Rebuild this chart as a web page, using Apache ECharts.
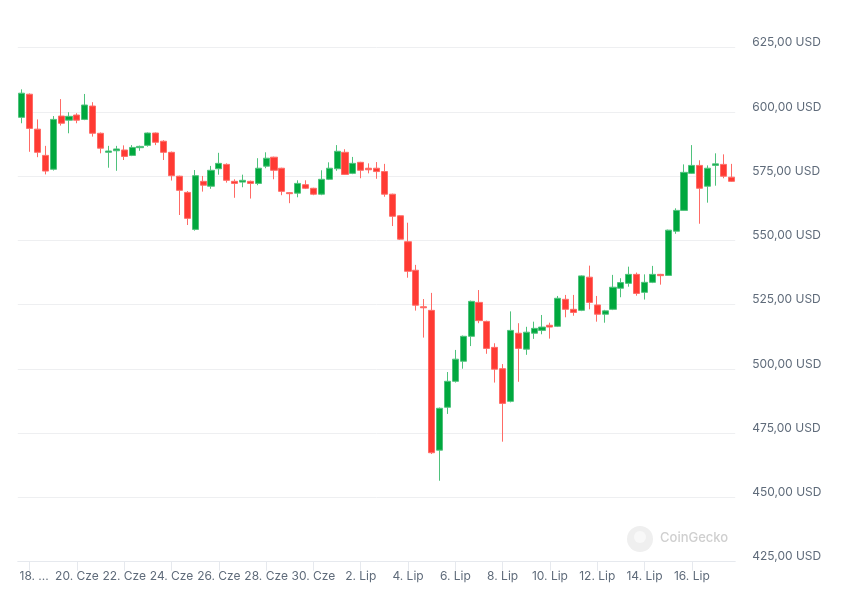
<!DOCTYPE html>
<html>
<head>
<meta charset="utf-8">
<script src="https://cdn.jsdelivr.net/npm/echarts@6/dist/echarts.min.js"></script>
<style>
html,body{margin:0;padding:0;background:#fff;}
#chart{width:846px;height:598px;}
</style>
</head>
<body>
<div id="chart"></div>
<script>
// 8-hour candles, first candle: 17 Jun 16:00
const startTime = Date.UTC(2024, 5, 17, 16, 0, 0);
const stepHours = 8;
const opens = [597.9,606.9,593.3,583.1,577.7,598.4,596.8,598.8,597.1,602.3,591.7,584.3,584.9,585.2,583.1,586.1,587.0,591.8,588.6,584.3,575.0,568.7,554.3,573.0,571.1,577.9,579.6,573.0,572.7,573.0,572.2,578.9,582.4,578.1,568.6,568.4,571.7,570.3,568.0,573.8,577.9,584.3,576.1,580.4,578.1,578.1,576.8,568.0,559.6,549.5,538.4,524.2,522.8,468.4,485.1,495.2,503.0,512.7,525.9,518.5,508.4,500.1,487.4,513.9,507.7,513.9,515.0,517.0,516.6,527.1,523.2,522.8,535.7,524.9,521.3,523.2,531.4,533.3,536.8,529.8,533.7,536.8,536.4,553.6,561.7,576.1,579.2,571.1,579.2,579.6,574.6];
const closes = [607.3,593.6,584.3,577.0,597.1,595.6,598.3,596.8,602.7,591.7,585.9,584.8,585.6,582.7,586.2,586.6,591.8,588.2,584.3,575.2,569.5,558.6,575.2,571.5,577.3,580.0,573.4,572.2,573.4,572.2,578.1,582.0,577.3,569.1,568.2,572.2,570.3,568.0,573.8,578.1,584.7,575.7,580.0,577.3,577.5,576.8,568.0,559.4,550.5,538.0,524.8,523.8,467.4,484.7,495.2,503.8,512.7,526.3,518.8,508.0,499.9,486.6,515.0,508.0,514.3,515.8,516.3,516.3,527.5,523.2,522.0,536.2,525.9,521.3,522.6,531.8,533.6,536.8,529.4,533.7,536.8,536.3,554.0,561.7,576.5,579.2,570.3,578.1,579.8,575.0,573.0];
const lows = [595.6,584.5,582.4,575.7,577.2,594.7,591.7,595.6,596.8,590.4,583.9,578.3,577.1,581.3,582.8,584.9,586.5,587.1,581.3,573.3,559.9,556.0,553.8,569.0,570.1,575.6,572.5,566.6,570.7,566.3,571.5,578.1,573.8,567.6,564.5,566.8,570.0,567.6,567.6,573.5,577.1,575.5,575.8,574.2,576.1,574.0,567.0,555.6,550.2,535.5,522.7,512.2,466.9,456.5,482.5,494.7,500.1,508.9,517.8,505.9,494.7,471.7,487.0,495.0,505.5,511.7,513.5,511.8,516.3,520.1,520.7,522.5,523.2,518.4,518.0,522.9,527.9,532.0,528.5,527.0,533.4,532.8,536.2,552.6,561.5,575.9,556.5,564.7,571.3,574.2,572.8];
const highs = [608.8,607.2,597.1,586.8,598.4,605.0,599.9,599.5,607.0,603.8,592.0,586.8,586.8,587.0,587.1,586.9,592.0,592.0,589.0,584.6,575.2,569.2,577.4,575.1,579.0,584.1,580.0,573.8,575.6,573.3,582.0,584.3,582.6,578.3,568.8,573.4,573.4,570.5,577.3,580.4,587.1,585.5,582.5,580.6,580.0,580.5,579.8,568.2,559.8,556.9,540.5,527.2,529.6,485.0,498.8,507.4,513.0,526.6,530.7,518.8,510.0,501.9,522.4,517.8,516.4,518.4,521.0,518.0,528.4,528.8,528.8,536.4,540.2,528.4,523.0,536.6,535.3,539.8,537.5,536.8,540.1,537.0,554.2,562.5,579.6,587.1,581.2,579.2,583.9,583.5,579.8];
const tickLabels = ['18. ...','20. Cze','22. Cze','24. Cze','26. Cze','28. Cze','30. Cze','2. Lip','4. Lip','6. Lip','8. Lip','10. Lip','12. Lip','14. Lip','16. Lip'];
const firstTickIndex = 1;   // 18 Jun 00:00
const tickEvery = 6;        // every 2 days
const yMin = 425, yMax = 625, yStep = 25;

const categories = opens.map((_, i) => {
  const d = new Date(startTime + i * stepHours * 3600 * 1000);
  return d.toISOString().slice(0, 16);
});
const candleData = opens.map((o, i) => [o, closes[i], lows[i], highs[i]]);
const isTick = (idx) => idx >= firstTickIndex && (idx - firstTickIndex) % tickEvery === 0;

const chart = echarts.init(document.getElementById('chart'), null, {renderer: 'canvas'});
const font = 'Inter, "Noto Sans", "DejaVu Sans", sans-serif';
chart.setOption({
  animation: false,
  backgroundColor: '#ffffff',
  grid: {left: 17.8, right: 110.8, top: 47.7, bottom: 36.3, containLabel: false},
  xAxis: {
    type: 'category',
    data: categories,
    boundaryGap: true,
    axisLine: {show: true, lineStyle: {color: '#e6e9ee', width: 1}},
    axisTick: {show: true, alignWithLabel: true, interval: (idx) => isTick(idx), length: 9, lineStyle: {color: '#e6e9ee'}},
    axisLabel: {
      interval: (idx) => isTick(idx),
      margin: 9,
      color: '#5f6b7a',
      fontSize: 12,
      fontFamily: font,
      formatter: (val, idx) => {
        const k = (idx - firstTickIndex) / tickEvery;
        const t = tickLabels[k] || '';
        return k === 0 ? '{first|' + t + '}' : t;
      },
      rich: {first: {padding: [0, 0, 0, 9], color: '#5f6b7a', fontSize: 12, fontFamily: font}}
    },
    splitLine: {show: false}
  },
  yAxis: {
    type: 'value',
    position: 'right',
    min: yMin, max: yMax, interval: yStep,
    scale: true,
    axisLine: {show: false},
    axisTick: {show: false},
    splitLine: {show: true, lineStyle: {color: '#eeeff1', width: 1}},
    axisLabel: {
      margin: 17,
      color: '#5f6b7a',
      fontSize: 12,
      fontFamily: font,
      verticalAlign: 'bottom',
      lineHeight: 10,
      formatter: (v) => v.toFixed(2).replace('.', ',') + ' USD'
    }
  },
  graphic: [
    {type: 'circle', left: 627, top: 526, shape: {r: 13}, style: {fill: '#efefef'}, z: 0, silent: true},
    {type: 'circle', left: 634, top: 531, shape: {r: 6}, style: {fill: '#f8f8f8'}, z: 0, silent: true},
    {type: 'text', left: 660, top: 532, style: {text: 'CoinGecko', fill: '#cfcfcf', font: '500 13px ' + font}, z: 0, silent: true}
  ],
  series: [{
    type: 'candlestick',
    data: candleData,
    barWidth: '84%',
    itemStyle: {
      color: '#00a83e',
      color0: '#ff3a33',
      borderColor: '#4fc27c',
      borderColor0: '#ff6b66',
      borderWidth: 1
    }
  }]
});
</script>
</body>
</html>
